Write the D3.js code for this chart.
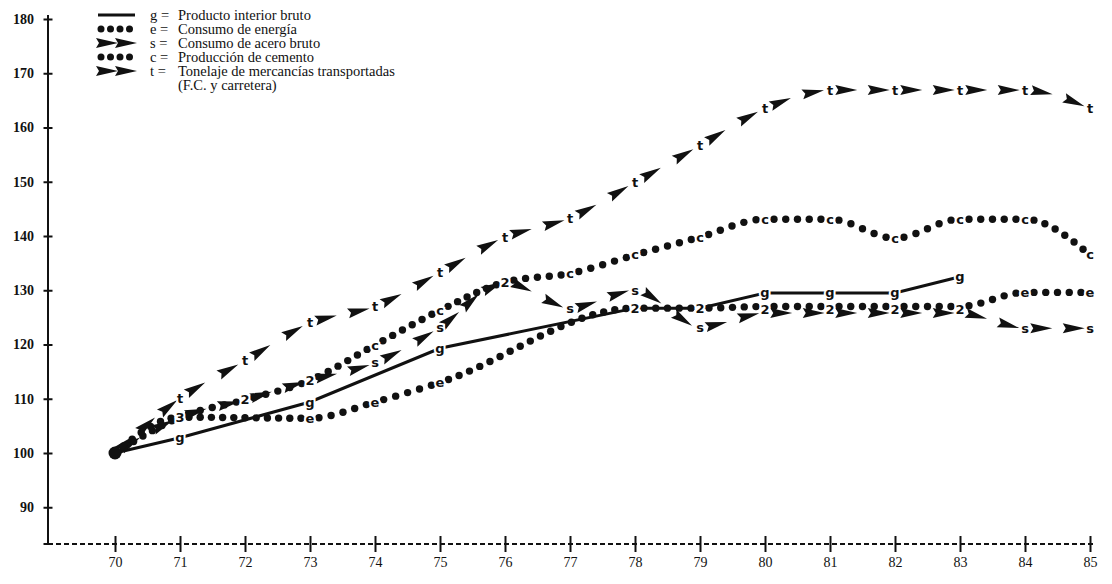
<!DOCTYPE html>
<html><head><meta charset="utf-8">
<script src="https://cdn.jsdelivr.net/npm/d3@7"></script>
<style>body{margin:0;background:#fff}svg{display:block}</style>
</head><body>
<svg id="chart" width="1112" height="584"></svg>
<script>
// ---------- data ----------
const years = [70,71,72,73,74,75,76,77,78,79,80,81,82,83,84,85];
const yTicks = [90,100,110,120,130,140,150,160,170,180];
const gValues = [100,102.8,null,109.4,null,119.3,null,null,126.7,126.7,129.5,129.5,129.5,132.5,null,null];
const eValues = [100,106.6,null,106.4,109.4,113.0,null,null,126.7,126.7,127.0,127.0,127.0,127.0,129.6,129.6];
const sValues = [100,106.6,109.8,113.4,116.6,123.2,131.5,126.7,130.0,123.2,125.8,125.8,125.8,125.8,123.0,123.0];
const cValues = [100,106.6,109.8,113.4,119.9,126.3,131.5,133.1,136.5,139.8,143.1,143.1,139.6,143.1,143.1,136.5];
const tValues = [100,110.1,117.0,124.0,127.0,133.3,139.8,143.3,149.9,156.7,163.5,166.9,166.9,166.9,166.9,163.5];
const seriesKeys = ["g","e","s","c","t"];
const seriesNames = ["Producto interior bruto","Consumo de energía","Consumo de acero bruto","Producción de cemento","Tonelaje de mercancías transportadas"];
const legendExtra = "(F.C. y carretera)";
const seriesStyles = ["line","dots","arrows","dots","arrows"];
const seriesValues = [gValues,eValues,sValues,cValues,tValues];

// ---------- layout ----------
const svg = d3.select("#chart");
const x = d3.scaleLinear().domain([70,85]).range([115,1090]);
const y = d3.scaleLinear().domain([100,180]).range([453,19]);
const axisX0 = 48, axisBottomY = 544, axisRight = 1093;
const ink = "#111";

// Y axis
const yAxisG = svg.append("g").attr("transform",`translate(${axisX0},0)`)
  .call(d3.axisLeft(y).tickValues(yTicks).tickSize(0).tickPadding(14));
yAxisG.select(".domain").remove();
yAxisG.selectAll(".tick text").attr("font-family","Liberation Serif").attr("font-size",14)
  .attr("font-weight","bold").attr("fill",ink);
yAxisG.selectAll(".tick").append("line").attr("x1",-4.5).attr("x2",4.5).attr("stroke",ink).attr("stroke-width",2);
yAxisG.selectAll(".tick").append("line").attr("y1",-4.5).attr("y2",4.5).attr("stroke",ink).attr("stroke-width",2);
svg.append("line").attr("x1",axisX0).attr("x2",axisX0).attr("y1",y(180)).attr("y2",axisBottomY)
  .attr("stroke",ink).attr("stroke-width",2);

// X axis
const xAxisG = svg.append("g").attr("transform",`translate(0,${axisBottomY})`)
  .call(d3.axisBottom(x).tickValues(years).tickSize(0).tickPadding(13).tickFormat(d3.format("d")));
xAxisG.select(".domain").remove();
xAxisG.selectAll(".tick text").attr("font-family","Liberation Serif").attr("font-size",14)
  .attr("fill",ink);
xAxisG.selectAll(".tick").append("line").attr("y1",-8).attr("y2",8).attr("stroke",ink).attr("stroke-width",2);
svg.append("line").attr("x1",axisX0).attr("x2",axisRight).attr("y1",axisBottomY).attr("y2",axisBottomY)
  .attr("stroke",ink).attr("stroke-width",2).attr("stroke-dasharray","5,3");
svg.append("line").attr("x1",axisX0-4.5).attr("x2",axisX0+4.5).attr("y1",axisBottomY).attr("y2",axisBottomY)
  .attr("stroke",ink).attr("stroke-width",2);

// ---------- labels (letters / coincidence digits) ----------
const labels = [];
years.forEach((yr,i) => {
  if (i === 0) return;
  const pts = [];
  seriesKeys.forEach((k,j) => { const v = seriesValues[j][i]; if (v != null) pts.push({k, v}); });
  pts.sort((a,b)=>a.v-b.v);
  const groups = [];
  pts.forEach(p => {
    const last = groups[groups.length-1];
    if (last && Math.abs(p.v - last[last.length-1].v) < 1.5) last.push(p); else groups.push([p]);
  });
  groups.forEach(g => {
    const v = d3.mean(g, d=>d.v);
    labels.push({x: x(yr), y: y(v), text: g.length > 1 ? String(g.length) : g[0].k});
  });
});

// ---------- series ----------
const lineGen = d3.line().x(d=>x(d.yr)).y(d=>y(d.v));
const marks = svg.append("g");
const arrowPath = "M1,0 L-21,-5 L-18,0 L-21,5 Z";

function lengthAtX(node, L, tx) {
  let lo = 0, hi = L;
  for (let it = 0; it < 40; it++) {
    const mid = (lo+hi)/2;
    if (node.getPointAtLength(mid).x < tx) lo = mid; else hi = mid;
  }
  return (lo+hi)/2;
}
function angleAt(node, L, d) {
  const p1 = node.getPointAtLength(Math.max(0,d-3)), p2 = node.getPointAtLength(Math.min(L,d+3));
  return Math.atan2(p2.y-p1.y, p2.x-p1.x)*180/Math.PI;
}

seriesKeys.forEach((k,j) => {
  const data = years.map((yr,i)=>({yr, v: seriesValues[j][i]})).filter(d=>d.v!=null);
  const style = seriesStyles[j];
  if (style === "line") {
    marks.append("path").attr("d", lineGen.curve(d3.curveLinear)(data))
      .attr("fill","none").attr("stroke",ink).attr("stroke-width",3);
    return;
  }
  const p = marks.append("path").attr("d", lineGen.curve(d3.curveMonotoneX)(data))
    .attr("fill","none").attr("stroke","none");
  const node = p.node();
  const L = node.getTotalLength();
  const lens = data.map((d,i) => i === 0 ? 0 : (i === data.length-1 ? L : lengthAtX(node, L, x(d.yr))));
  for (let i = 0; i < data.length-1; i++) {
    const a = lens[i], b = lens[i+1];
    if (style === "dots") {
      const m0 = i === 0 ? 11 : 9, m1 = 9;
      const s0 = a + m0, s1 = b - m1;
      const n = Math.max(1, Math.round((s1 - s0)/11.5) + 1);
      for (let q = 0; q < n; q++) {
        const d = n === 1 ? (s0+s1)/2 : s0 + (s1-s0)*q/(n-1);
        const pt = node.getPointAtLength(d);
        marks.append("circle").attr("cx",pt.x).attr("cy",pt.y).attr("r",3.7).attr("fill",ink);
      }
    } else {
      const seg = b - a;
      const n = Math.max(1, Math.round(seg/32));
      for (let q = 0; q < n; q++) {
        const c = a + seg*(q+0.5)/n;
        const tip = Math.min(b, c + 10);
        const pt = node.getPointAtLength(tip);
        const ang = angleAt(node, L, c);
        marks.append("path").attr("d",arrowPath)
          .attr("transform",`translate(${pt.x},${pt.y}) rotate(${ang})`).attr("fill",ink);
      }
    }
  }
});

// start point
svg.append("circle").attr("cx",x(70)).attr("cy",y(100)).attr("r",6.5).attr("fill",ink);

// labels on top with white halo
svg.append("g").selectAll("text").data(labels).join("text")
  .attr("x",d=>d.x).attr("y",d=>d.y).attr("text-anchor","middle").attr("dominant-baseline","central")
  .attr("font-family","DejaVu Sans").attr("font-weight","bold").attr("font-size",13)
  .attr("stroke","#fff").attr("stroke-width",4).attr("paint-order","stroke").attr("fill",ink)
  .text(d=>d.text);

// ---------- legend ----------
const leg = svg.append("g");
const rowY = [15,29,43,57,71];
const legFont = 14.5;
seriesKeys.forEach((k,j) => {
  const ry = rowY[j];
  const st = seriesStyles[j];
  if (st === "line") {
    leg.append("line").attr("x1",98).attr("x2",135).attr("y1",ry).attr("y2",ry).attr("stroke",ink).attr("stroke-width",3);
  } else if (st === "dots") {
    [101,110.5,120,129.5].forEach(cx => leg.append("circle").attr("cx",cx).attr("cy",ry).attr("r",3.5).attr("fill",ink));
  } else {
    [117,136].forEach(tx => leg.append("path").attr("d",arrowPath).attr("transform",`translate(${tx},${ry})`).attr("fill",ink));
  }
  const t = leg.append("text").attr("y",ry).attr("dominant-baseline","central")
    .attr("font-family","Liberation Serif").attr("font-size",legFont).attr("fill",ink);
  t.append("tspan").attr("x",150).text(k + " =");
  t.append("tspan").attr("x",178).text(seriesNames[j]);
});
leg.append("text").attr("x",178).attr("y",85).attr("dominant-baseline","central")
  .attr("font-family","Liberation Serif").attr("font-size",legFont).attr("fill",ink).text(legendExtra);
</script>
</body></html>
